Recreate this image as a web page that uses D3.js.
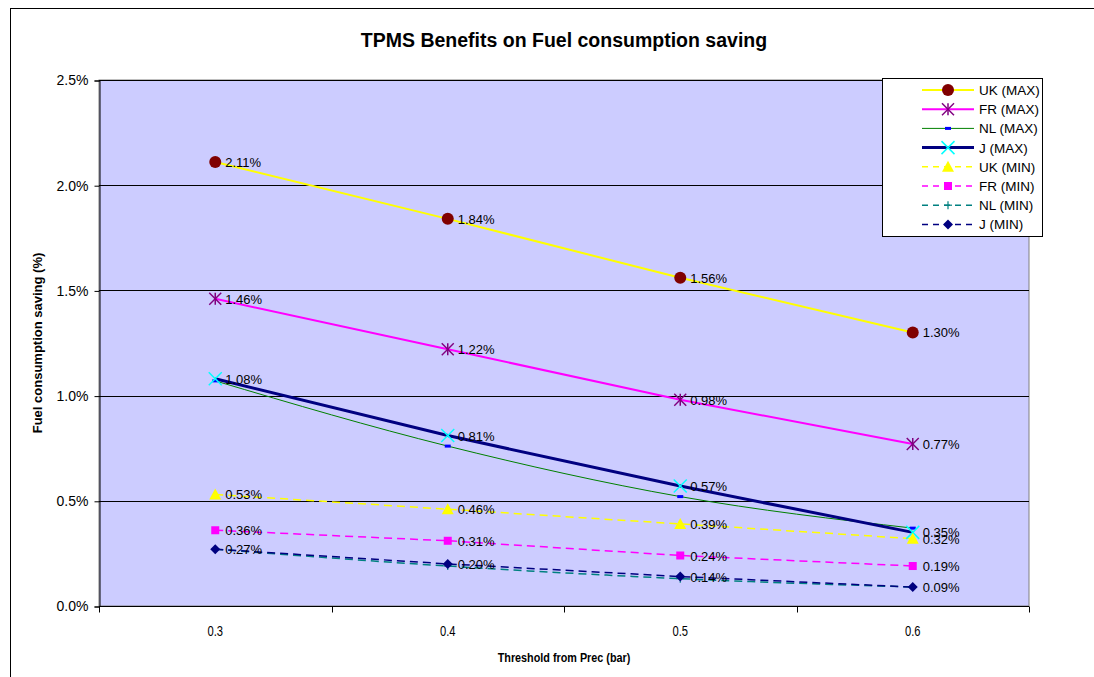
<!DOCTYPE html>
<html><head><meta charset="utf-8">
<script src="https://cdn.jsdelivr.net/npm/d3@7"></script>
<style>body{margin:0;background:#fff;font-family:Arial,"Liberation Sans",sans-serif;}</style>
</head><body>
<svg id="c" width="1094" height="677"></svg>
<script>
const categories = ["0.3","0.4","0.5","0.6"];
const seriesNames = ["UK (MAX)","FR (MAX)","NL (MAX)","J (MAX)","UK (MIN)","FR (MIN)","NL (MIN)","J (MIN)"];
const ukMax = [2.11, 1.84, 1.56, 1.30];
const frMax = [1.46, 1.22, 0.98, 0.77];
const nlMax = [1.07, 0.76, 0.52, 0.37];
const jMax  = [1.08, 0.81, 0.57, 0.35];
const ukMin = [0.53, 0.46, 0.39, 0.32];
const frMin = [0.36, 0.31, 0.24, 0.19];
const nlMin = [0.27, 0.19, 0.13, 0.09];
const jMin  = [0.27, 0.20, 0.14, 0.09];
const yTicks = [0, 0.5, 1.0, 1.5, 2.0, 2.5];

const styles = [
  {data: ukMax, color:"#FFFF00", w:2,   dash:null,  marker:"circle",   mcol:"#800000", label:true},
  {data: frMax, color:"#FF00FF", w:2,   dash:null,  marker:"asterisk", mcol:"#800080", label:true},
  {data: nlMax, color:"#008000", w:1,   dash:null,  marker:"dash",     mcol:"#0000FF", label:false, smooth:true},
  {data: jMax,  color:"#000080", w:3,   dash:null,  marker:"x",        mcol:"#00FFFF", label:true},
  {data: ukMin, color:"#FFFF00", w:1.5, dash:"8,5", marker:"triangle", mcol:"#FFFF00", label:true},
  {data: frMin, color:"#FF00FF", w:1.5, dash:"8,5", marker:"square",   mcol:"#FF00FF", label:true},
  {data: nlMin, color:"#008080", w:1.5, dash:"8,5", marker:"plus",     mcol:"#008080", label:false, smooth:true},
  {data: jMin,  color:"#000080", w:1.5, dash:"8,5", marker:"diamond",  mcol:"#000080", label:true}
];

const svg = d3.select("#c");
const L = 99, R = 1029, T = 80, B = 606;

// outer chart border
svg.append("rect").attr("x",10.5).attr("y",8.5).attr("width",1100).attr("height",700)
  .attr("fill","#fff").attr("stroke","#000").attr("stroke-width",1);

const x = d3.scalePoint().domain(categories).range([L, R]).padding(0.5);
const xb = d3.scaleBand().domain(categories).range([L, R]);
const y = d3.scaleLinear().domain([0, 2.5]).range([B, T]);

// plot area
svg.append("rect").attr("x",L).attr("y",T).attr("width",R-L).attr("height",B-T)
  .attr("fill","#CCCCFF").attr("stroke","#808080").attr("stroke-width",1);

// gridlines
svg.append("g").selectAll("line").data(yTicks.filter(d=>d>0)).join("line")
  .attr("x1",L).attr("x2",R).attr("y1",d=>Math.round(y(d))+0.5).attr("y2",d=>Math.round(y(d))+0.5)
  .attr("stroke","#000").attr("stroke-width",1);

// y axis
const yAxis = d3.axisLeft(y).tickValues(yTicks).tickFormat(d=>d.toFixed(1)+"%").tickSize(5).tickPadding(6);
const gy = svg.append("g").attr("transform",`translate(${L+0.5},0.5)`).call(yAxis);
gy.selectAll("text").attr("font-size",14).attr("font-family","Arial").attr("fill","#000");
gy.select(".domain").attr("stroke","#000");

// x axis with boundary ticks
const gx = svg.append("g").attr("transform",`translate(0,${B+0.5})`);
gx.append("line").attr("x1",L).attr("x2",R).attr("stroke","#000");
const bounds = categories.map(c=>xb(c)).concat([R]);
gx.selectAll("line.t").data(bounds).join("line").attr("class","t")
  .attr("x1",d=>Math.round(d)+0.5).attr("x2",d=>Math.round(d)+0.5).attr("y1",0).attr("y2",6).attr("stroke","#000");
gx.selectAll("text").data(categories).join("text")
  .attr("transform",d=>`translate(${x(d)},29) scale(0.8,1)`).attr("text-anchor","middle")
  .attr("font-size",14).attr("font-family","Arial").text(d=>d);

// titles
svg.append("text").attr("x",564).attr("y",47).attr("text-anchor","middle")
  .attr("font-size",19.5).attr("font-weight","bold").attr("font-family","Arial")
  .text("TPMS Benefits on Fuel consumption saving");
svg.append("text").attr("transform","translate(564,662) scale(0.8,1)").attr("text-anchor","middle")
  .attr("font-size",13.5).attr("font-weight","bold").attr("font-family","Arial")
  .text("Threshold from Prec (bar)");
svg.append("text").attr("transform",`translate(42,${(T+B)/2}) rotate(-90)`).attr("text-anchor","middle")
  .attr("font-size",13).attr("font-weight","bold").attr("font-family","Arial")
  .text("Fuel consumption saving (%)");

function drawMarker(g, type, cx, cy, col){
  switch(type){
    case "circle": g.append("circle").attr("cx",cx).attr("cy",cy).attr("r",6).attr("fill",col); break;
    case "asterisk": {
      const s=6;
      [[-s,-s,s,s],[-s,s,s,-s],[0,-s,0,s]].forEach(p=>g.append("line")
        .attr("x1",cx+p[0]).attr("y1",cy+p[1]).attr("x2",cx+p[2]).attr("y2",cy+p[3])
        .attr("stroke",col).attr("stroke-width",1.5));
      break;}
    case "dash": g.append("rect").attr("x",cx-3).attr("y",cy-1.5).attr("width",6).attr("height",3).attr("fill",col); break;
    case "x": {
      const s=6.5;
      [[-s,-s,s,s],[-s,s,s,-s]].forEach(p=>g.append("line")
        .attr("x1",cx+p[0]).attr("y1",cy+p[1]).attr("x2",cx+p[2]).attr("y2",cy+p[3])
        .attr("stroke",col).attr("stroke-width",1.5));
      break;}
    case "triangle": g.append("path").attr("d",`M${cx},${cy-6}L${cx+6},${cy+5}L${cx-6},${cy+5}Z`).attr("fill",col); break;
    case "square": g.append("rect").attr("x",cx-4).attr("y",cy-4).attr("width",8).attr("height",8).attr("fill",col); break;
    case "plus": {
      const s=4;
      [[-s,0,s,0],[0,-s,0,s]].forEach(p=>g.append("line")
        .attr("x1",cx+p[0]).attr("y1",cy+p[1]).attr("x2",cx+p[2]).attr("y2",cy+p[3])
        .attr("stroke",col).attr("stroke-width",1.2));
      break;}
    case "diamond": g.append("path").attr("d",`M${cx},${cy-5}L${cx+5},${cy}L${cx},${cy+5}L${cx-5},${cy}Z`).attr("fill",col); break;
  }
}

// series
const plot = svg.append("g");
styles.forEach((s,i)=>{
  const line = d3.line().x((d,j)=>x(categories[j])).y(d=>y(d))
    .curve(s.smooth ? d3.curveMonotoneX : d3.curveLinear);
  plot.append("path").attr("d",line(s.data)).attr("fill","none")
    .attr("stroke",s.color).attr("stroke-width",s.w).attr("stroke-dasharray",s.dash);
});
styles.forEach((s,i)=>{
  const g = plot.append("g");
  s.data.forEach((v,j)=>drawMarker(g, s.marker, x(categories[j]), y(v), s.mcol));
});
styles.forEach((s,i)=>{
  if(!s.label) return;
  plot.append("g").selectAll("text").data(s.data).join("text")
    .attr("x",(d,j)=>x(categories[j])+10).attr("y",d=>y(d)+5)
    .attr("font-size",13).attr("font-family","Arial").attr("fill","#000")
    .text(d=>d.toFixed(2)+"%");
});

// legend
const lg = svg.append("g");
lg.append("rect").attr("x",882.5).attr("y",78.5).attr("width",160).attr("height",158)
  .attr("fill","#fff").attr("stroke","#000");
seriesNames.forEach((n,i)=>{
  const s = styles[i], yy = 90 + i*19.2;
  lg.append("line").attr("x1",922).attr("x2",974).attr("y1",yy).attr("y2",yy)
    .attr("stroke",s.color).attr("stroke-width",s.w).attr("stroke-dasharray",s.dash ? "6,5" : null);
  drawMarker(lg, s.marker, 948, yy, s.mcol);
  lg.append("text").attr("x",979).attr("y",yy+5).attr("font-size",13.5).attr("font-family","Arial").text(n);
});
</script>
</body></html>
